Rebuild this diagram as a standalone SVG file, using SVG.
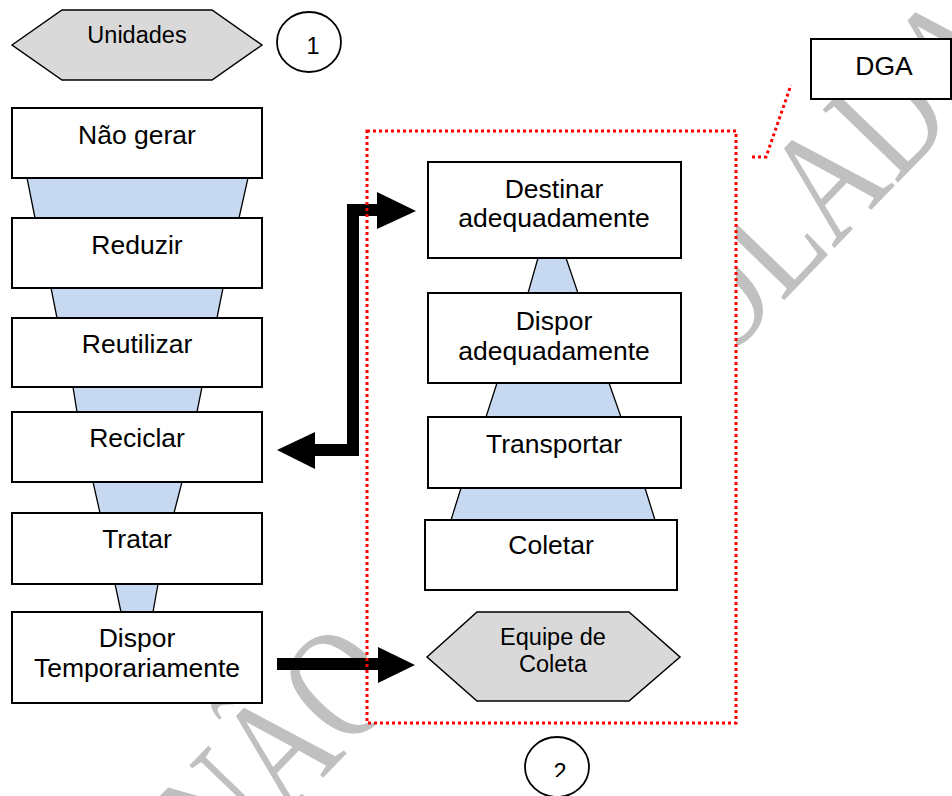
<svg xmlns="http://www.w3.org/2000/svg" width="952" height="796" viewBox="0 0 952 796">
  <style>
    .lbl { font-family: "Liberation Sans", Arial, sans-serif; font-size: 26.5px; fill: #000; text-anchor: middle; }
    .sm { font-size: 23.5px; }
    .box { fill: #fff; stroke: #000; stroke-width: 2; }
    .trap { fill: #c6d9f1; stroke: #000; stroke-width: 1.3; }
    .hex { fill: #d9d9d9; stroke: #000; stroke-width: 1.5; }
    .circ { fill: #fff; stroke: #000; stroke-width: 1.8; }
    .wm { font-family: "Liberation Serif", "Times New Roman", serif; font-size: 123px; fill: #c0c0c0; }
    .red { fill: none; stroke: #ff0000; stroke-width: 3; stroke-dasharray: 3 3; }
    .bar { fill: none; stroke: #000; stroke-width: 12; stroke-linejoin: miter; }
  </style>
  <defs>
    <clipPath id="clip2">
      <rect x="520" y="740" width="80" height="37"/>
    </clipPath>
  </defs>

  <rect width="952" height="796" fill="#fff"/>

  <!-- watermark -->
  <text class="wm" transform="translate(-49 1163) rotate(-46) scale(1 1.3)">CÓPIA NÃO CONTROLADA</text>

  <!-- container background -->
  <rect id="container-bg" x="367" y="131" width="369" height="592" fill="#fff"/>

  <!-- left funnel -->
  <g id="funnel-left">
    <polygon class="trap" points="27,178 248,178 239,218 35,218"/>
    <polygon class="trap" points="51,288 223,288 217,318 57,318"/>
    <polygon class="trap" points="73,387 202,387 197,412 77,412"/>
    <polygon class="trap" points="93,482 182,482 174,513 100,513"/>
    <polygon class="trap" points="115,584 158,584 153,612 121,612"/>
  </g>

  <!-- right funnel -->
  <g id="funnel-right">
    <polygon class="trap" points="538,258 566,258 578,293 528,293"/>
    <polygon class="trap" points="497,383 609,383 621,417 486,417"/>
    <polygon class="trap" points="461,488 645,488 655,520 451,520"/>
  </g>

  <g id="unidades">
    <polygon class="hex" points="12,45 62,10 212,10 262,45 212,80 62,80"/>
    <text class="lbl sm" x="137" y="43">Unidades</text>
  </g>

  <g id="marker-1">
    <ellipse class="circ" cx="309" cy="42" rx="32" ry="30"/>
    <text class="lbl sm" x="313" y="54">1</text>
  </g>

  <g id="dga">
    <rect class="box" x="811" y="39" width="140" height="60"/>
    <text class="lbl" x="884" y="75">DGA</text>
  </g>

  <g id="nao-gerar">
    <rect class="box" x="12" y="108" width="250" height="70"/>
    <text class="lbl" x="137" y="144">Não gerar</text>
  </g>
  <g id="reduzir">
    <rect class="box" x="12" y="218" width="250" height="70"/>
    <text class="lbl" x="137" y="254">Reduzir</text>
  </g>
  <g id="reutilizar">
    <rect class="box" x="12" y="318" width="250" height="69"/>
    <text class="lbl" x="137" y="353">Reutilizar</text>
  </g>
  <g id="reciclar">
    <rect class="box" x="12" y="412" width="250" height="70"/>
    <text class="lbl" x="137" y="447">Reciclar</text>
  </g>
  <g id="tratar">
    <rect class="box" x="12" y="513" width="250" height="71"/>
    <text class="lbl" x="137" y="548">Tratar</text>
  </g>
  <g id="dispor-temporariamente">
    <rect class="box" x="12" y="612" width="250" height="91"/>
    <text class="lbl" x="137" y="647">Dispor</text>
    <text class="lbl" x="137" y="677">Temporariamente</text>
  </g>

  <g id="destinar">
    <rect class="box" x="428" y="162" width="253" height="96"/>
    <text class="lbl" x="554" y="198">Destinar</text>
    <text class="lbl" x="554" y="227">adequadamente</text>
  </g>
  <g id="dispor-adequadamente">
    <rect class="box" x="428" y="293" width="253" height="90"/>
    <text class="lbl" x="554" y="330">Dispor</text>
    <text class="lbl" x="554" y="360">adequadamente</text>
  </g>
  <g id="transportar">
    <rect class="box" x="428" y="417" width="253" height="71"/>
    <text class="lbl" x="554" y="453">Transportar</text>
  </g>
  <g id="coletar">
    <rect class="box" x="425" y="520" width="252" height="70"/>
    <text class="lbl" x="551" y="554">Coletar</text>
  </g>

  <g id="equipe-coleta">
    <polygon class="hex" points="427,657 477,612 629,612 680,657 629,701 477,701"/>
    <text class="lbl sm" x="553" y="645">Equipe de</text>
    <text class="lbl sm" x="553" y="672">Coleta</text>
  </g>

  <g id="marker-2">
    <ellipse class="circ" cx="557" cy="767" rx="32" ry="30"/>
    <text class="lbl sm" x="560" y="780" clip-path="url(#clip2)">2</text>
  </g>

  <!-- connectors -->
  <g id="connectors">
    <path class="bar" d="M378 210 H353 V450 H314"/>
    <polygon points="377,192 416,211 377,229"/>
    <polygon points="315,432 277,450 315,469"/>
    <path class="bar" d="M277 664 H379"/>
    <polygon points="378,647 415,665 378,683"/>
    <polyline class="red" points="752,157 766,157 791,85"/>
  </g>

  <!-- dotted group boundary -->
  <rect id="container" class="red" x="367" y="131" width="369" height="592"/>
</svg>
